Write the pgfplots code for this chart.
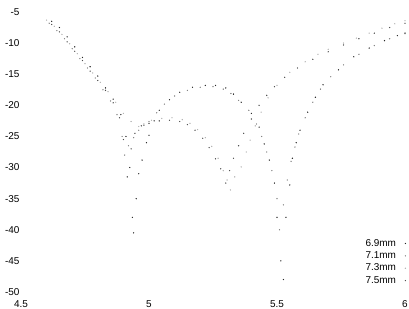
\documentclass[border=0pt]{standalone}
\usepackage{pgfplots}
\pgfplotsset{compat=1.18}
\usepackage{fontspec}
\setmainfont{Liberation Sans}
\usetikzlibrary{calc}
\begin{document}
\begin{tikzpicture}
\begin{axis}[
  scale only axis, width=384bp, height=280bp,
  xmin=4.5, xmax=6, ymin=-50, ymax=-5,
  xtick={4.5,5,5.5,6}, ytick={-50,-45,-40,-35,-30,-25,-20,-15,-10,-5},
  xticklabels={4.5,5,5.5,6},
  axis line style={draw=none}, major tick length=0pt,
  /pgf/number format/assume math mode=true,
  tick label style={font=\fontsize{10}{11}\selectfont},
  xticklabel style={yshift=-5bp},
  yticklabel style={xshift=2bp},
  legend style={at={(rel axis cs:1,0)}, anchor=south east, draw=none, fill=none,
    font=\fontsize{10}{12.5}\selectfont, row sep=0bp, inner sep=1pt, xshift=2bp, yshift=4bp,
    /tikz/every odd column/.append style={column sep=7bp}},
  legend cell align=right, legend plot pos=right,
  every axis plot/.append style={only marks, mark=*, mark size=0.4pt},
  clip=false,
]
\coordinate (SW) at (rel axis cs:0,0);
\coordinate (NE) at (rel axis cs:1,1);
\addplot[black!85, mark options={fill=black!85}] coordinates {
(4.62,-6.5)(4.65,-7.5)(4.68,-9.0)(4.71,-10.6)(4.74,-12.3)(4.77,-13.8)(4.80,-15.3)(4.83,-17.2)(4.86,-19.0)(4.89,-21.5)(4.91,-25)(4.925,-30)(4.935,-38)(4.94,-40.5)(4.95,-35)(4.96,-31)(4.973,-28.8)(4.99,-26)(5.0,-24.8)(5.02,-22.5)(5.04,-20.8)(5.08,-19.1)(5.12,-17.9)(5.17,-17.1)(5.22,-16.8)(5.26,-16.8)(5.30,-17.2)(5.33,-18.2)(5.36,-19.5)(5.40,-21.3)(5.43,-23.5)(5.45,-26.2)(5.47,-28.8)(5.49,-32.5)(5.50,-38)(5.515,-45)(5.525,-48)(5.535,-38)(5.55,-32.8)(5.56,-28.5)(5.575,-26)(5.59,-24)(5.62,-21.1)(5.65,-18.7)(5.68,-16.7)(5.74,-14.3)(5.80,-12.2)(5.86,-10.8)(5.92,-9.6)(5.97,-8.8)(6.0,-8.4)
};
\addlegendentry{6.9mm}
\addplot[black!50, mark options={fill=black!50}] coordinates {
(4.61,-6.8)(4.64,-8.0)(4.67,-9.3)(4.70,-10.9)(4.73,-12.5)(4.76,-14.0)(4.79,-15.6)(4.82,-17.5)(4.85,-19.3)(4.875,-21.5)(4.895,-25)(4.905,-28)(4.92,-26.5)(4.94,-25.2)(4.96,-24)(4.98,-23.2)(5.0,-22.6)(5.03,-21.2)(5.06,-19.8)(5.10,-18.5)(5.15,-17.6)(5.20,-17.1)(5.25,-17.0)(5.29,-17.4)(5.32,-18.1)(5.35,-19.2)(5.39,-20.8)(5.42,-23)(5.44,-25)(5.46,-27.5)(5.48,-30.5)(5.50,-35)(5.51,-40)(5.525,-36)(5.54,-32)(5.555,-29)(5.57,-26.7)(5.585,-24.6)(5.61,-22)(5.64,-19.5)(5.67,-17.4)(5.71,-15.4)(5.76,-13.5)(5.82,-11.8)(5.88,-10.4)(5.94,-9.3)(6.0,-8.5)
};
\addlegendentry{7.1mm}
\addplot[black!30, mark options={fill=black!30}] coordinates {
(4.60,-6.3)(4.63,-7.3)(4.66,-8.6)(4.69,-10.1)(4.72,-11.7)(4.75,-13.3)(4.78,-14.8)(4.81,-16.3)(4.84,-17.8)(4.87,-19.5)(4.90,-21.3)(4.93,-22.6)(4.96,-23.4)(4.98,-23.0)(5.01,-22.4)(5.05,-22.1)(5.09,-22.0)(5.13,-22.3)(5.16,-22.9)(5.19,-23.9)(5.22,-25.2)(5.245,-26.6)(5.27,-28.5)(5.29,-30.5)(5.305,-32)(5.318,-33.6)(5.335,-31.5)(5.36,-29.9)(5.38,-27.5)(5.395,-25.6)(5.415,-23.3)(5.438,-21.1)(5.465,-18.8)(5.50,-16.8)(5.55,-14.7)(5.61,-13.0)(5.66,-11.8)(5.70,-11.0)(5.76,-10.0)(5.81,-9.2)(5.86,-8.4)(5.91,-7.6)(5.96,-6.9)(6.0,-6.4)
};
\addlegendentry{7.3mm}
\addplot[black!70, mark options={fill=black!70}] coordinates {
(4.62,-7.0)(4.65,-8.2)(4.68,-9.8)(4.71,-11.3)(4.74,-12.8)(4.77,-14.5)(4.80,-16.0)(4.83,-17.6)(4.86,-19.6)(4.885,-22)(4.90,-25.5)(4.915,-31.5)(4.93,-27)(4.945,-24.5)(4.97,-23.3)(5.0,-22.9)(5.04,-22.5)(5.08,-22.4)(5.12,-22.6)(5.15,-23.1)(5.18,-24.0)(5.21,-25.3)(5.235,-26.8)(5.26,-28.6)(5.28,-30.2)(5.30,-32.5)(5.315,-30.5)(5.33,-28.5)(5.35,-26.5)(5.37,-24.5)(5.40,-22.2)(5.43,-20.0)(5.46,-18.4)(5.49,-17.0)(5.53,-15.5)(5.58,-14.0)(5.64,-12.6)(5.70,-11.4)(5.76,-10.3)(5.82,-9.3)(5.88,-8.4)(5.94,-7.5)(6.0,-6.8)
};
\addlegendentry{7.5mm}
\end{axis}
\pgfresetboundingbox
\path ($(SW)+(-21bp,-17bp)$) rectangle ($(NE)+(4bp,12bp)$);
\end{tikzpicture}
\end{document}
